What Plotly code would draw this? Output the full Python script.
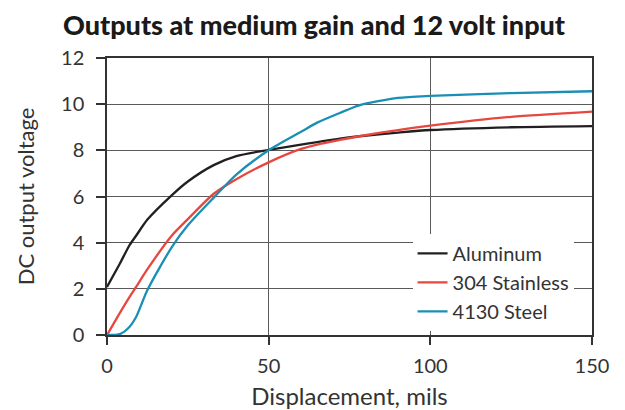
import plotly.graph_objects as go

# Data
displacement = [0, 4, 7, 9, 12.5, 20, 25, 33, 40, 50, 60, 65, 72, 78, 90, 100, 125, 150]
aluminum = [2.08, 3.1, 3.9, 4.3, 5.0, 6.05, 6.65, 7.36, 7.75, 8.02, 8.25, 8.36, 8.51, 8.61, 8.77, 8.88, 9.0, 9.05]
stainless_304 = [0.0, 0.96, 1.65, 2.08, 2.85, 4.3, 5.02, 6.12, 6.75, 7.48, 8.06, 8.25, 8.45, 8.61, 8.88, 9.07, 9.45, 9.68]
steel_4130 = [0.0, 0.04, 0.36, 0.78, 1.95, 3.8, 4.75, 5.95, 6.95, 8.0, 8.8, 9.2, 9.62, 9.95, 10.27, 10.36, 10.48, 10.56]

series_names = ["Aluminum", "304 Stainless", "4130 Steel"]
series_values = [aluminum, stainless_304, steel_4130]
series_colors = ["#231f20", "#e8473f", "#1a8fb5"]

x_ticks = [0, 50, 100, 150]
y_ticks = [0, 2, 4, 6, 8, 10, 12]

fig = go.Figure()
for name, vals, col in zip(series_names, series_values, series_colors):
    fig.add_trace(go.Scatter(
        x=displacement, y=vals, name=name, mode="lines",
        line=dict(color=col, width=2.3, shape="spline", smoothing=0.7),
    ))

font_family = "Lato, 'Open Sans', sans-serif"
text_col = "#333333"
grid_col = "#5a5a5a"
axis_col = "#333333"

fig.update_layout(
    width=617, height=410,
    margin=dict(l=99, r=33, t=50, b=83),
    paper_bgcolor="white", plot_bgcolor="white",
    font=dict(family=font_family, color=text_col, size=20),
    title=dict(
        text="Outputs at medium gain and 12 volt input",
        x=0.496, xanchor="center", y=0.957, yanchor="middle",
        font=dict(family="Lato, sans-serif", size=27, color="#1a1a1a", weight=900),
    ),
    showlegend=True,
    legend=dict(
        x=0.63, y=0.015, xanchor="left", yanchor="bottom",
        bgcolor="white", borderwidth=0,
        font=dict(size=20, color=text_col),
        tracegroupgap=0, itemwidth=30,
    ),
)

fig.update_xaxes(
    range=[0, 150], tickvals=x_ticks, ticktext=[str(v) for v in x_ticks],
    showgrid=True, gridcolor=grid_col, gridwidth=1.2,
    showline=True, linecolor=axis_col, linewidth=1.5, mirror=True,
    ticks="outside", ticklen=8, tickcolor=axis_col, tickwidth=1.5,
    ticklabelstandoff=4,
    zeroline=False,
    title=dict(text="Displacement, mils", font=dict(size=24, color=text_col), standoff=12),
    tickfont=dict(size=20, color=text_col),
)
fig.update_yaxes(
    range=[0, 12], tickvals=y_ticks, ticktext=[str(v) for v in y_ticks],
    showgrid=True, gridcolor=grid_col, gridwidth=1.2,
    showline=True, linecolor=axis_col, linewidth=1.5, mirror=True,
    ticks="outside", ticklen=9, tickcolor=axis_col, tickwidth=1.5,
    ticklabelstandoff=8,
    zeroline=False,
    title=dict(text="DC output voltage", font=dict(size=22, color=text_col), standoff=20),
    tickfont=dict(size=20, color=text_col),
)

fig.write_html("out.html")
